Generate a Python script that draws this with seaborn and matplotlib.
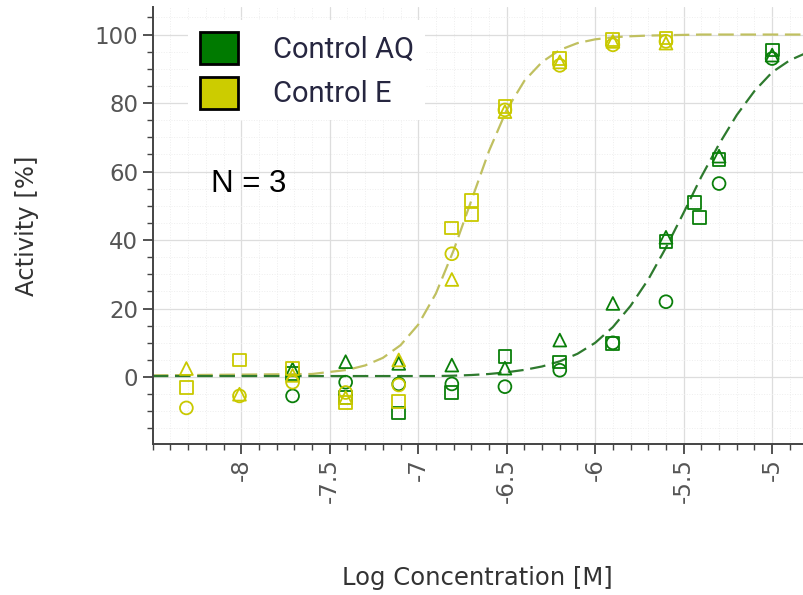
import numpy as np
import pandas as pd
import seaborn as sns
import matplotlib.pyplot as plt
from matplotlib.patches import Patch
from matplotlib.ticker import MultipleLocator

sns.set_theme(style='ticks')
plt.rcParams['font.family'] = ['DejaVu Sans']
plt.rcParams['axes.unicode_minus'] = False

# log concentrations (2-fold dilution series)
x_aq = [-7.71, -7.41, -7.11, -6.81, -6.51, -6.20, -5.90, -5.60, -5.30, -5.00]
aq_circle = [-5.5, -1.5, -2.0, -2.0, -2.8, 2.0, 10.0, 22.0, 56.5, 93.0]
aq_square = [1.0, -6.0, -10.5, -4.5, 6.0, 4.4, 9.8, 39.5, 63.5, 95.5]
aq_triangle = [2.3, 4.5, 4.0, 3.5, 2.6, 10.8, 21.5, 40.8, 64.5, 94.0]
x_aq_extra = [-5.44, -5.41]
aq_extra = [51.0, 46.5]

x_e = [-8.31, -8.01, -7.71, -7.41, -7.11, -6.81, -6.51, -6.20, -5.90, -5.60]
e_circle = [-9.0, -5.5, -1.5, -4.5, -2.3, 36.0, 78.0, 91.0, 97.0, 98.0]
e_square = [-3.0, 5.0, 2.5, -7.5, -7.2, 43.5, 79.0, 93.0, 98.5, 99.0]
e_triangle = [2.5, -5.0, 0.5, -6.0, 5.0, 28.5, 77.5, 92.0, 98.0, 97.5]
x_e_extra = [-6.70, -6.70]
e_extra = [51.5, 47.5]

# fitted curves
curve_x = [-8.5, -7.6, -7.4, -7.3, -7.2, -7.1, -7.0, -6.9, -6.8, -6.7, -6.6, -6.5,
           -6.4, -6.3, -6.2, -6.1, -6.0, -5.9, -5.8, -5.7, -5.6, -5.5, -5.4, -5.3,
           -5.2, -5.1, -5.0, -4.9, -4.8]
curve_e = [0.5, 0.9, 2.1, 3.4, 5.6, 9.3, 15.3, 24.4, 37.0, 51.5, 66.0, 78.0,
           86.5, 92.0, 95.5, 97.5, 98.6, 99.2, 99.5, 99.7, 99.8, 99.9, 100.0, 100.0,
           100.0, 100.0, 100.0, 100.0, 100.0]
curve_aq = [0.3, 0.3, 0.3, 0.3, 0.3, 0.3, 0.3, 0.3, 0.4, 0.6, 0.9, 1.4,
            2.1, 3.1, 4.6, 6.8, 10.0, 14.6, 20.8, 28.5, 37.8, 48.0, 58.5, 68.0,
            76.5, 83.5, 89.0, 92.5, 94.8]

x_ticks = [-8, -7.5, -7, -6.5, -6, -5.5, -5]
x_tick_labels = ['-8', '-7.5', '-7', '-6.5', '-6', '-5.5', '-5']
y_ticks = [0, 20, 40, 60, 80, 100]

green = '#0a7f0a'
yellow = '#c9c900'


def replicate_frame(x, circle, square, triangle, x_extra, extra):
    parts = [pd.DataFrame({'conc': x, 'act': circle, 'rep': 'c'}),
             pd.DataFrame({'conc': x, 'act': square, 'rep': 's'}),
             pd.DataFrame({'conc': x, 'act': triangle, 'rep': 't'}),
             pd.DataFrame({'conc': x_extra, 'act': extra, 'rep': 's'})]
    return pd.concat(parts, ignore_index=True)


df_aq = replicate_frame(x_aq, aq_circle, aq_square, aq_triangle, x_aq_extra, aq_extra)
df_e = replicate_frame(x_e, e_circle, e_square, e_triangle, x_e_extra, e_extra)
df_curve = pd.DataFrame({'conc': curve_x, 'E': curve_e, 'AQ': curve_aq})

fig = plt.figure(figsize=(8.04, 5.95), dpi=100)
ax = fig.add_axes([0.19, 0.254, 0.81, 0.734])

sns.lineplot(data=df_curve, x='conc', y='E', ax=ax, color='#c0c060', lw=1.6,
             linestyle=(0, (7, 3)), estimator=None, zorder=2)
sns.lineplot(data=df_curve, x='conc', y='AQ', ax=ax, color='#2e7a2e', lw=1.6,
             linestyle=(0, (7, 3)), estimator=None, zorder=2)

markers = {'c': 'o', 's': 's', 't': '^'}
for d, col in [(df_aq, green), (df_e, yellow)]:
    sns.scatterplot(data=d, x='conc', y='act', style='rep', markers=markers,
                    ax=ax, s=85, facecolor='none', edgecolor=col, color=col,
                    linewidth=1.3, legend=False, zorder=3)

ax.set_xlim(-8.5, -4.82)
ax.set_ylim(-19.5, 108)
ax.set_xticks(x_ticks)
ax.set_xticklabels(x_tick_labels, rotation=90)
ax.set_yticks(y_ticks)
ax.xaxis.set_minor_locator(MultipleLocator(0.1))
ax.yaxis.set_minor_locator(MultipleLocator(5))

ax.grid(which='major', color='#dddddd', lw=0.9)
ax.grid(which='minor', color='#eeeeee', lw=0.7, ls=':')
ax.set_axisbelow(True)

sns.despine(ax=ax)
for side in ['left', 'bottom']:
    ax.spines[side].set_color('#444444')
    ax.spines[side].set_linewidth(1.4)

ax.tick_params(which='major', length=7, width=1.3, color='#444444',
               labelsize=16.5, labelcolor='#555555')
ax.tick_params(which='minor', length=4, width=1.0, color='#444444')

ax.set_xlabel('Log Concentration [M]', fontsize=17.5, color='#333333')
ax.set_ylabel('Activity [%]', fontsize=17.5, color='#333333')
ax.xaxis.set_label_coords(0.498, -0.279)
ax.yaxis.set_label_coords(-0.174, 0.5)

handles = [Patch(facecolor='#007a00', edgecolor='black', lw=2),
           Patch(facecolor='#cccc00', edgecolor='black', lw=2)]
leg = ax.legend(handles, ['Control AQ', 'Control E'], loc='upper left',
                bbox_to_anchor=(0.054, 0.970), borderaxespad=0,
                prop={'family': ['Roboto', 'DejaVu Sans'], 'size': 21},
                handlelength=1.3, handleheight=1.3, handletextpad=1.2,
                labelspacing=0.45, borderpad=0.4, frameon=True, fancybox=False)
leg.get_frame().set_facecolor('white')
leg.get_frame().set_edgecolor('none')
leg.get_frame().set_alpha(1)
for t in leg.get_texts():
    t.set_color('#262640')

ax.text(0.089, 0.577, 'N = 3', transform=ax.transAxes, fontsize=22.5,
        family=['Liberation Sans', 'DejaVu Sans'], color='black', va='baseline')

fig.savefig('out.png', dpi=100)
